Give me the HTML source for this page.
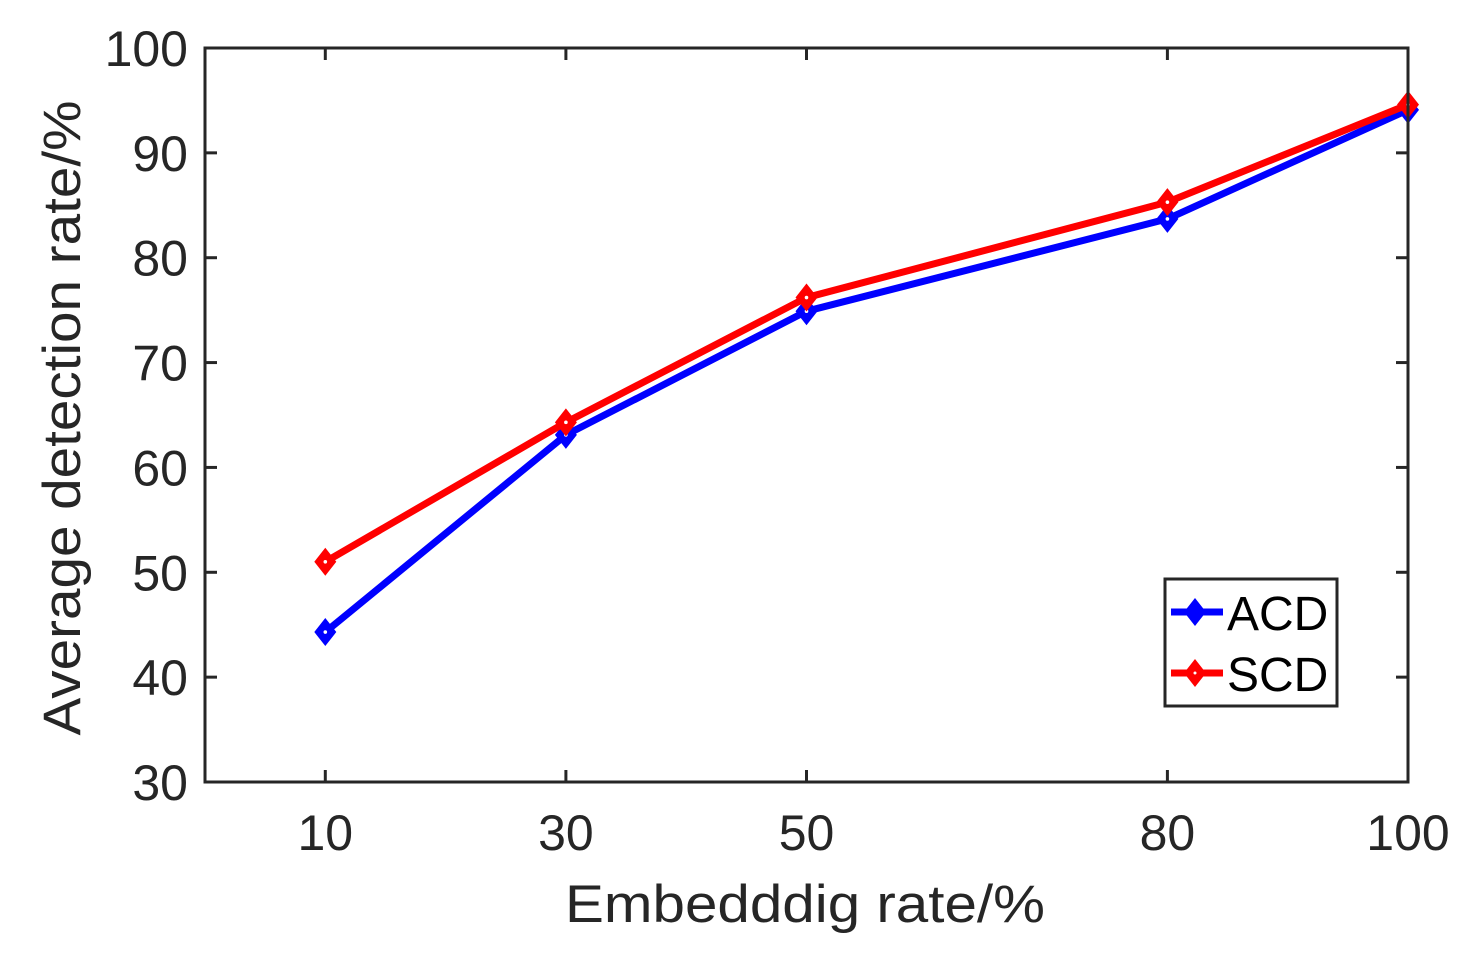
<!DOCTYPE html>
<html><head><meta charset="utf-8"><style>
html,body{margin:0;padding:0;background:#fff;}
svg{display:block;font-family:"Liberation Sans",Arial,sans-serif;}
</style></head><body>
<svg id="chart" width="1479" height="961" viewBox="0 0 1479 961">
<rect x="0" y="0" width="1479" height="961" fill="#fff"/>
<g id="ticks"></g>
<g id="series"></g>
<rect x="205" y="48" width="1203" height="734" fill="none" stroke="#262626" stroke-width="3"/>
<text x="805" y="922" font-size="53" text-anchor="middle" textLength="480" lengthAdjust="spacingAndGlyphs" fill="#262626">Embedddig rate/%</text>
<text transform="translate(80,418) rotate(-90)" font-size="53" text-anchor="middle" textLength="635" lengthAdjust="spacingAndGlyphs" fill="#262626">Average detection rate/%</text>
<g>
<rect x="1165" y="579" width="172" height="127" fill="#fff" stroke="#262626" stroke-width="3"/>
<g>
<line x1="1171" y1="612" x2="1223" y2="612" stroke="#0000ff" stroke-width="7"/>
<polygon points="1195,598 1206,612 1195,626 1184,612" fill="#0000ff"/>
<text x="1227" y="630" font-size="48" fill="#000">ACD</text></g>
<g>
<line x1="1171" y1="673" x2="1223" y2="673" stroke="#ff0000" stroke-width="7"/>
<polygon points="1195,659 1206,673 1195,687 1184,673" fill="#ff0000"/>
<circle cx="1195" cy="673" r="1.5" fill="#fff"/>
<text x="1227" y="691" font-size="48" fill="#000">SCD</text></g>
</g>
</svg>
<script>
const categories = [10, 30, 50, 80, 100];
const acdValues = [44.3, 63.1, 74.9, 83.7, 94.1];
const scdValues = [51.0, 64.3, 76.2, 85.3, 94.6];
const yTicks = [30, 40, 50, 60, 70, 80, 90, 100];
const xTicks = [10, 30, 50, 80, 100];

const NS = "http://www.w3.org/2000/svg";
function xs(v){ return 205 + (v - 0) / 100 * 1203; }
function ys(v){ return 782 - (v - 30) / 70 * 734; }
function mk(tag, attrs, parent){ const e = document.createElementNS(NS, tag); for (const k in attrs) e.setAttribute(k, attrs[k]); parent.appendChild(e); return e; }

const tg = document.getElementById('ticks');
yTicks.forEach(t => {
  const y = ys(t);
  const l1 = mk('line', {x1:205, y1:y, x2:217, y2:y, stroke:'#262626', 'stroke-width':3}, tg);
  
  
  const l2 = mk('line', {x1:1396, y1:y, x2:1408, y2:y, stroke:'#262626', 'stroke-width':3}, tg);
  
  
  const tx = mk('text', {x:188, y:y+18, 'font-size':50, 'text-anchor':'end', fill:'#262626'}, tg);
  tx.textContent = t;
  
  
});
xTicks.forEach(t => {
  const x = xs(t);
  const l1 = mk('line', {x1:x, y1:782, x2:x, y2:770, stroke:'#262626', 'stroke-width':3}, tg);
  
  
  const l2 = mk('line', {x1:x, y1:48, x2:x, y2:60, stroke:'#262626', 'stroke-width':3}, tg);
  
  
  const tx = mk('text', {x:x, y:850, 'font-size':50, 'text-anchor':'middle', fill:'#262626'}, tg);
  tx.textContent = t;
  
  
});

const sg = document.getElementById('series');
function drawSeries(vals, color, name, dot){
  const g = mk('g', {}, sg);
  
  
  const pts = categories.map((c,i) => xs(c) + ',' + ys(vals[i])).join(' ');
  const pl = mk('polyline', {points:pts, fill:'none', stroke:color, 'stroke-width':7, 'stroke-linejoin':'round'}, g);
  
  
  categories.forEach((c,i) => {
    const x = xs(c), y = ys(vals[i]);
    const p = mk('polygon', {points:`${x},${y-14} ${x+11},${y} ${x},${y+14} ${x-11},${y}`, fill:color}, g);
    
    
    if (dot) { mk('circle', {cx:x, cy:y, r:1.8, fill:'#fff'}, g); }
  });
}
drawSeries(acdValues, '#0000ff', 'series-acd', true);
drawSeries(scdValues, '#ff0000', 'series-scd', true);
</script>
</body></html>
